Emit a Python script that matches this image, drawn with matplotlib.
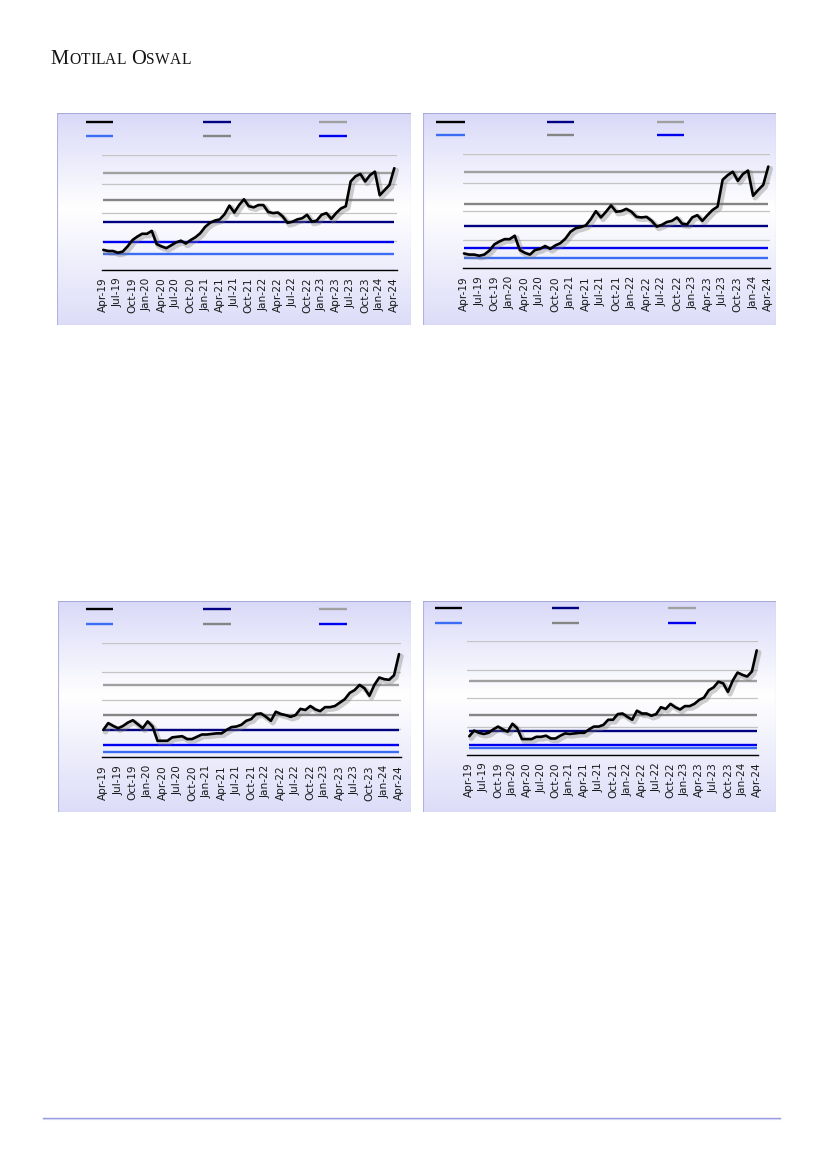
import numpy as np
import pandas as pd
import matplotlib
matplotlib.use("Agg")
import matplotlib.pyplot as plt
import matplotlib.patheffects as pe
from matplotlib.patches import Rectangle
from matplotlib.lines import Line2D

# ---------------- data ----------------
months = pd.date_range("2019-04-01", "2024-04-01", freq="MS")
tick_labels = ["Apr-19", "Jul-19", "Oct-19", "Jan-20", "Apr-20", "Jul-20", "Oct-20",
               "Jan-21", "Apr-21", "Jul-21", "Oct-21", "Jan-22", "Apr-22", "Jul-22",
               "Oct-22", "Jan-23", "Apr-23", "Jul-23", "Oct-23", "Jan-24", "Apr-24"]

pe_1 = [3.5, 3.3, 3.3, 3.0, 3.2, 4.1, 5.2, 5.8, 6.3, 6.3, 6.8, 4.5, 4.1, 3.8, 4.3, 4.8,
        5.1, 4.6, 5.2, 5.7, 6.4, 7.5, 8.2, 8.6, 8.8, 9.7, 11.2, 10.0, 11.3, 12.3, 11.1,
        10.9, 11.3, 11.3, 10.1, 9.9, 10.0, 9.3, 8.2, 8.4, 8.8, 9.0, 9.6, 8.4, 8.6, 9.6,
        9.9, 8.9, 9.9, 10.7, 11.1, 15.4, 16.3, 16.7, 15.4, 16.5, 17.1, 13.0, 13.9, 14.8, 17.7]
pe_2 = [2.6, 2.4, 2.4, 2.2, 2.4, 3.1, 4.2, 4.7, 5.1, 5.1, 5.7, 3.2, 2.7, 2.4, 3.2, 3.4,
        3.9, 3.4, 4.0, 4.4, 5.2, 6.4, 7.0, 7.2, 7.5, 8.6, 10.0, 8.9, 9.9, 11.0, 9.9,
        10.0, 10.4, 9.9, 9.0, 8.9, 9.0, 8.3, 7.3, 7.6, 8.1, 8.3, 8.9, 7.8, 7.7, 8.9,
        9.3, 8.3, 9.3, 10.2, 10.8, 15.5, 16.3, 16.9, 15.3, 16.5, 17.1, 12.7, 13.7, 14.6, 17.8]
pe_3 = [4.8, 6.0, 5.5, 5.1, 5.5, 6.1, 6.5, 5.8, 5.1, 6.3, 5.4, 2.9, 2.9, 2.9, 3.5, 3.6,
        3.7, 3.2, 3.2, 3.6, 4.0, 4.0, 4.1, 4.2, 4.2, 4.8, 5.3, 5.4, 5.7, 6.4, 6.7,
        7.6, 7.7, 7.1, 6.4, 8.0, 7.6, 7.4, 7.1, 7.4, 8.5, 8.3, 9.0, 8.4, 8.1, 8.8,
        8.8, 9.0, 9.6, 10.2, 11.3, 11.8, 12.7, 12.1, 10.8, 12.7, 14.0, 13.7, 13.6, 14.4, 18.1]
pe_4 = [3.3, 4.3, 3.9, 3.7, 3.9, 4.5, 5.0, 4.5, 4.1, 5.5, 4.7, 2.8, 2.8, 2.8, 3.2, 3.2,
        3.4, 2.9, 2.9, 3.4, 3.8, 3.7, 3.8, 3.9, 3.9, 4.5, 5.0, 5.0, 5.3, 6.2, 6.2,
        7.2, 7.3, 6.7, 6.2, 7.8, 7.3, 7.3, 6.9, 7.2, 8.4, 8.1, 9.0, 8.4, 8.0, 8.6,
        8.6, 9.0, 9.7, 10.1, 11.4, 11.9, 12.9, 12.6, 11.1, 13.1, 14.5, 14.1, 13.8, 14.7, 18.4]

# band levels: max, +1SD, avg, -1SD, min
max_vals = [16.9, 16.9, 12.7, 13.1]
plus1_vals = [12.1, 11.3, 7.5, 7.1]
avg_vals = [8.4, 7.4, 4.8, 4.3]
minus1_vals = [4.8, 3.6, 2.2, 1.7]
min_vals = [2.8, 1.8, 1.0, 1.3]

series = [pe_1, pe_2, pe_3, pe_4]

# ---------------- style ----------------
C_PE = "#000000"
C_AVG = "#000080"
C_MAX = "#a0a0a0"
C_MIN = "#3a6cf4"
C_P1 = "#858585"
C_M1 = "#0000f0"

W, H = 827, 1169
fig = plt.figure(figsize=(W / 100, H / 100), dpi=100)
fig.patch.set_facecolor("white")


def fx(px):
    return px / W


def fy(py):
    return 1 - py / H


# panel geometry in pixels (left, top, right, bottom)
panels = [
    dict(bg=(57, 113, 411, 325), ax=(101.7, 155.0, 396.7, 270.0), dx=(103.3, 394.3),
         rows=(121.7, 136.0), cols=((86, 113.3), (202.7, 230.7), (319.3, 346.7))),
    dict(bg=(423, 113, 776, 325), ax=(463.3, 154.0, 770.0, 268.3), dx=(464.0, 768.3),
         rows=(121.7, 135.0), cols=((436, 465), (546.7, 574.3), (656.7, 684.3))),
    dict(bg=(58, 601, 411, 812), ax=(101.7, 643.3, 400.7, 757.3), dx=(103.3, 399.0),
         rows=(609.0, 623.7), cols=((86, 113.3), (202.7, 230.7), (319.3, 346.7))),
    dict(bg=(423, 601, 776, 812), ax=(466.7, 641.3, 758.3, 755.0), dx=(469.3, 756.7),
         rows=(607.7, 622.7), cols=((435, 462.3), (551.7, 579), (668.3, 695.7))),
]

# vertical gradient for panel backgrounds
top_c = np.array([0.85, 0.85, 0.975])
mid_c = np.array([1.0, 1.0, 1.0])
bot_c = np.array([0.865, 0.865, 0.975])
t = np.linspace(0, 1, 256)[:, None]
grad = np.where(t < 0.45, top_c + (mid_c - top_c) * (t / 0.45),
                mid_c + (bot_c - mid_c) * ((t - 0.45) / 0.55))
grad = grad[:, None, :]

leg_colors = [(C_PE, C_AVG, C_MAX), (C_MIN, C_P1, C_M1)]

for i, p in enumerate(panels):
    l, tp, r, b = p["bg"]
    bgax = fig.add_axes([fx(l), fy(b), fx(r - l), (b - tp) / H])
    bgax.set_xlim(l, r)
    bgax.set_ylim(b, tp)
    bgax.imshow(grad, extent=[l, r, b, tp], aspect="auto", zorder=0)
    bgax.set_axis_off()
    bgax.add_patch(Rectangle((l, tp), r - l, b - tp, fill=False, edgecolor="#b2b2e0",
                             lw=0.8, zorder=2))
    bgax.plot([l, r], [tp, tp], color="#a8a8d8", lw=1.2, zorder=3)
    # legend swatches
    for ri, ry in enumerate(p["rows"]):
        for ci, (x0, x1) in enumerate(p["cols"]):
            bgax.add_line(Line2D([x0, x1], [ry, ry], color=leg_colors[ri][ci], lw=1.7,
                                 solid_capstyle="butt", zorder=4))

    # data axes
    al, at, ar, ab = p["ax"]
    ax = fig.add_axes([fx(al), fy(ab), fx(ar - al), (ab - at) / H])
    ax.patch.set_alpha(0)
    x = np.arange(len(months))
    d0, d1 = p["dx"]
    ppm = (d1 - d0) / (len(months) - 1)
    ax.set_xlim(-(d0 - al) / ppm, (len(months) - 1) + (ar - d1) / ppm)
    ax.set_ylim(0, 20)
    ax.set_yticks([0, 5, 10, 15, 20])
    ax.yaxis.grid(True, color="#c4c4c4", lw=0.9, zorder=0)
    ax.set_axisbelow(True)
    ax.tick_params(axis="y", length=0, labelleft=False)
    for s in ("top", "right", "left"):
        ax.spines[s].set_visible(False)
    ax.spines["bottom"].set_color("black")
    ax.spines["bottom"].set_linewidth(1.0)
    ax.spines["bottom"].set_zorder(5)

    xe = len(months) - 1
    ax.hlines(max_vals[i], 0, xe, color=C_MAX, lw=1.7, zorder=2)
    ax.hlines(plus1_vals[i], 0, xe, color=C_P1, lw=1.7, zorder=2)
    ax.hlines(avg_vals[i], 0, xe, color=C_AVG, lw=1.7, zorder=2)
    ax.hlines(minus1_vals[i], 0, xe, color=C_M1, lw=1.7, zorder=2)
    ax.hlines(min_vals[i], 0, xe, color=C_MIN, lw=1.7, zorder=2)

    ax.plot(x, series[i], color=C_PE, lw=1.9, zorder=4, solid_joinstyle="round",
            solid_capstyle="round", clip_on=False,
            path_effects=[pe.SimpleLineShadow(offset=(1.5, -1.5), shadow_color="#777777",
                                              alpha=0.35, linewidth=3.8),
                          pe.Normal()])

    ax.set_xticks(np.arange(0, len(months), 3))
    ax.set_xticklabels(tick_labels, rotation=90, fontsize=7.6, color="#1a1a1a",
                       family="DejaVu Sans")
    ax.tick_params(axis="x", length=0, pad=5.5)

# ---------------- logo ----------------
renderer = fig.canvas.get_renderer()
parts = [("M", 14.8), ("O", 11.2), ("T", 11.2), ("I", 11.2), ("L", 11.2), ("A", 11.2),
         ("L", 11.2), (" ", 11.2), ("O", 14.8), ("S", 11.2), ("W", 11.2), ("A", 11.2),
         ("L", 11.2)]
xpos = 50.5
for ch, sz in parts:
    if ch == " ":
        xpos += 5.0
        continue
    tt = fig.text(fx(xpos), fy(64.5), ch, fontsize=sz, family="Liberation Serif",
                  color="#141414", va="baseline", ha="left")
    bb = tt.get_window_extent(renderer)
    xpos = bb.x1 + 0.2

# ---------------- footer line ----------------
fig.add_artist(Line2D([fx(43), fx(780)], [fy(1118), fy(1118)], color="#9a9ae0", lw=1.0))
fig.add_artist(Line2D([fx(43), fx(780)], [fy(1119.3), fy(1119.3)], color="#d4d4f4", lw=0.8))

fig.savefig("out.png", dpi=100, facecolor="white")
